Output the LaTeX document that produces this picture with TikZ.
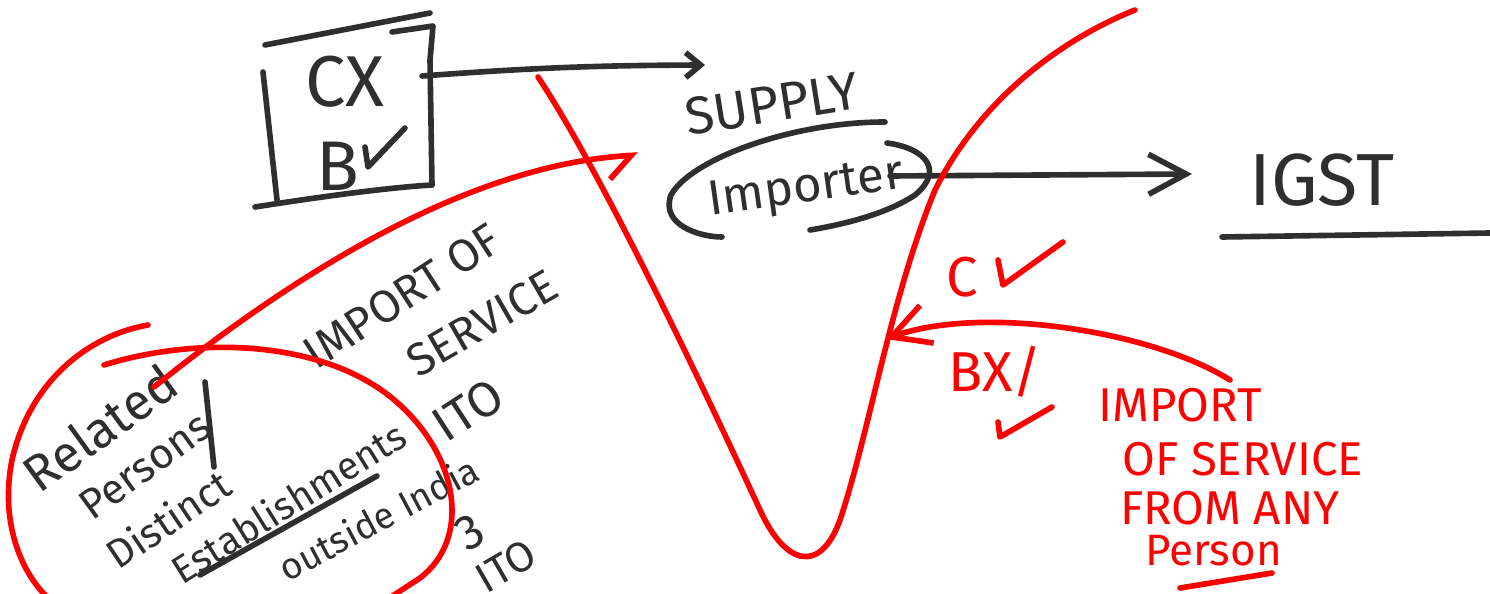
\documentclass[tikz,border=0pt]{standalone}
\usepackage{fontspec}
\setmainfont{Fira Sans}
\usetikzlibrary{arrows.meta}
\definecolor{ink}{HTML}{2F2F2F}
\definecolor{pen}{HTML}{FF0000}
\tikzset{
  blk/.style={draw=ink, line width=3.2pt, line cap=round, line join=round},
  redpen/.style={draw=pen, line width=3.2pt, line cap=round, line join=round},
  txt/.style={text=ink, inner sep=0pt},
  rtxt/.style={text=pen, inner sep=0pt},
  fs/.style={font=\fontsize{#1}{#1}\selectfont},
  bigbarb/.style={-{Straight Barb[length=0.75cm,width=0.8cm]}},
  smallbarb/.style={-{Straight Barb[length=0.3cm,width=0.5cm]}},
  hookbarb/.style={-{Straight Barb[right,length=0.45cm,width=0.9cm]}},
}
\begin{document}
\begin{tikzpicture}[x=0.02cm,y=-0.02cm]
\useasboundingbox (0,0) rectangle (1490,594);

% ---- box with CX / B
\node[txt,fs=41] (cx) at (345,82) {CX};
\node[txt,fs=40] (bv) at (338,166) {B};
\draw[blk] (265,45) -- (430,13);
\draw[blk] (392,32) -- (433,26) -- (430,60) -- (432,185);
\draw[blk] (263,72) -- (277,200);
\draw[blk] (255,207) .. controls (300,200) and (380,188) .. (432,185);
\draw[blk] (365,147) -- (368,167) -- (405,128);

% ---- supply / importer
\node[txt,fs=30,rotate=9] (supply) at (772,104) {SUPPLY};
\node[txt,fs=28,rotate=8] (imp) at (806,190) {Importer};
\draw[blk] (885,122) .. controls (790,122) and (690,160) .. (671,195)
           .. controls (660,225) and (700,237) .. (722,237);
\draw[blk] (887,143) .. controls (925,148) and (945,170) .. (915,195)
           .. controls (885,215) and (840,225) .. (810,230);

\coordinate (b1) at (422,76);
\coordinate (b2) at (705,65);
\draw[blk,smallbarb] (b1) to[bend left=2] (b2);

% ---- IGST
\node[txt,fs=42] (igst) at (1322,180) {IGST};
\draw[blk] (1222,237) -- (1490,233);
\coordinate (i1) at (890,176);
\coordinate (i2) at (1192,174);
\draw[blk,bigbarb] (i1) -- (i2);

% ---- red V curve
\draw[redpen] (538,77) .. controls (600,170) and (700,380) .. (760,510)
              .. controls (785,565) and (820,575) .. (840,520)
              .. controls (870,430) and (890,300) .. (935,190)
              .. controls (980,100) and (1060,40) .. (1135,10);

% ---- left black text
\node[txt,fs=29,rotate=36] (rel) at (100,428) {Related};
\node[txt,fs=24,rotate=36] (per) at (145,466) {Persons};
\draw[blk] (205,382) -- (214,467);
\node[txt,fs=23,rotate=34] (dis) at (168,519) {Distinct};
\node[txt,fs=22,rotate=32] (est) at (288,502) {Establishments};
\draw[blk] (200,575) -- (377,476);
\node[txt,fs=21,rotate=28] (out) at (378,518) {outside India};
\node[txt,fs=26,rotate=33] (ios) at (402,296) {IMPORT OF};
\node[txt,fs=26,rotate=30] (svc) at (482,323) {SERVICE};
\node[txt,fs=28,rotate=33] (ito) at (468,410) {ITO};
\node[txt,fs=28,rotate=30] (three) at (470,532) {3};
\node[txt,fs=24,rotate=30] (ito2) at (506,566) {ITO};

% ---- red circle
\draw[redpen] (148,325) .. controls (90,335) and (30,380) .. (12,460)
              .. controls (0,520) and (20,570) .. (46,596);
\draw[redpen] (104,365) .. controls (200,335) and (330,340) .. (400,405)
              .. controls (460,460) and (470,540) .. (420,578)
              .. controls (405,588) and (395,594) .. (390,598);

% ---- red arrow from Related
\coordinate (r1) at (154,387);
\coordinate (r2) at (638,155);
\draw[redpen,hookbarb] (r1) .. controls (300,270) and (470,165) .. (r2);

% ---- red right side
\node[rtxt,fs=32] (c) at (962,277) {C};
\draw[redpen] (998,260) -- (1003,285) -- (1063,242);
\node[rtxt,fs=32] (bx) at (995,372) {BX/};
\draw[redpen] (998,422) -- (1000,437) -- (1052,407);

\node[rtxt,fs=27,anchor=west] (l1) at (1098,405) {IMPORT};
\node[rtxt,fs=27,anchor=west] (l2) at (1122,459) {OF SERVICE};
\node[rtxt,fs=27,anchor=west] (l3) at (1120,508) {FROM ANY};
\node[rtxt,fs=25,anchor=west] (l4) at (1145,551) {Person};
\draw[redpen] (1180,588) -- (1272,573);

\coordinate (p1) at (1230,380);
\coordinate (p2) at (886,339);
\draw[redpen,bigbarb] (p1) .. controls (1150,330) and (980,305) .. (p2);
\end{tikzpicture}
\end{document}
